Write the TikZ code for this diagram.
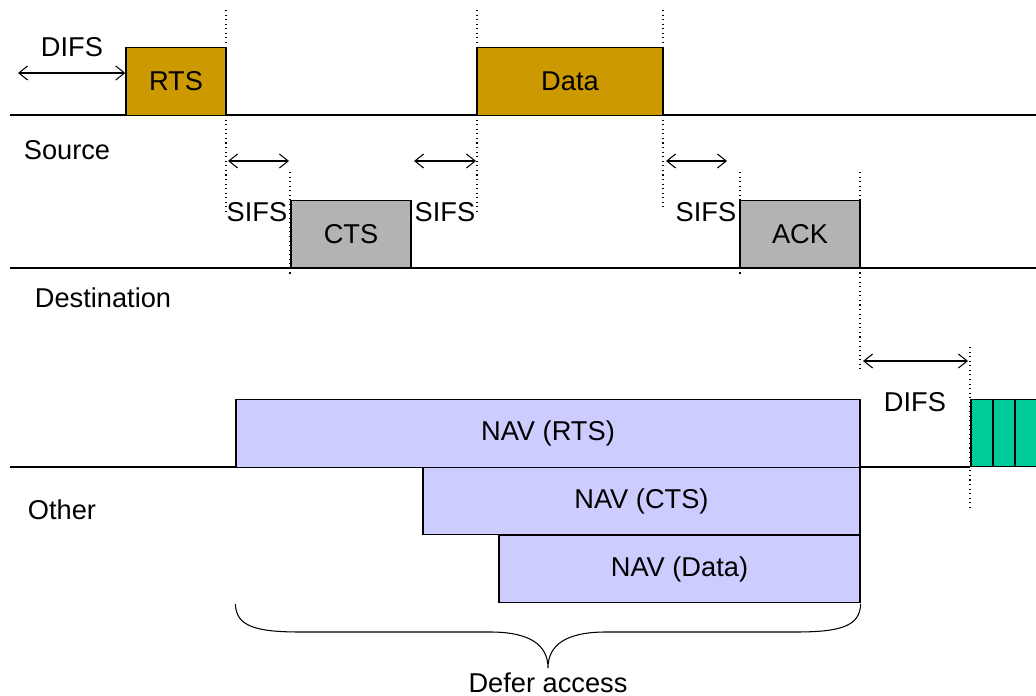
\documentclass[tikz,border=0pt]{standalone}
\usepackage{fontspec}
\setmainfont{Liberation Sans}
\usetikzlibrary{arrows.meta}
\definecolor{framecol}{HTML}{CC9900}
\definecolor{ctrlcol}{HTML}{B3B3B3}
\definecolor{navcol}{HTML}{CCCCFF}
\definecolor{slotcol}{HTML}{00CC99}
\begin{document}
\begin{tikzpicture}[x=0.02cm, y=-0.02cm, line width=0.75pt,
  every node/.style={font=\fontsize{15.5}{18}\selectfont},
  pkt/.style={draw, minimum height=1.35cm, inner sep=0pt},
  gap/.style={<->, line width=0.6pt, >={Straight Barb[length=5pt, width=8pt]}},
  mark line/.style={dotted, line width=0.6pt}]
\useasboundingbox (0,0) rectangle (1036,696);
% time lines
\draw (10,115) -- (1036,115);
\draw (10,268) -- (1036,268);
\draw (10,467) -- (970,467);
\node (src) at (67,150) {Source};
\node (dst) at (103,298) {Destination};
\node (oth) at (62,510) {Other};
% frame boundaries
\foreach \x/\a/\b in {226/10/212, 477/10/212, 663/10/210, 290/172/276, 740/172/276, 860/172/372, 970/347/510} {
  \draw[mark line] (\x,\a) -- (\x,\b);
}
% frames
\node[pkt, fill=framecol, minimum width=2cm] (rts) at (176,81.5) {RTS};
\node[pkt, fill=framecol, minimum width=3.72cm] (data) at (570,81.5) {Data};
\node[pkt, fill=ctrlcol, minimum width=2.4cm] (cts) at (351,234) {CTS};
\node[pkt, fill=ctrlcol, minimum width=2.4cm] (ack) at (800,234) {ACK};
\node[pkt, fill=navcol, minimum width=12.48cm] (navrts) at (548,433.5) {NAV (RTS)};
\node[pkt, fill=navcol, minimum width=8.74cm] (navcts) at (641.5,501) {NAV (CTS)};
\node[pkt, fill=navcol, minimum width=7.22cm] (navdata) at (679.5,569) {NAV (Data)};
\foreach \i/\x in {1/982, 2/1004, 3/1026} {
  \node[pkt, fill=slotcol, minimum width=0.44cm] (slot\i) at (\x,433) {};
}
% interframe spaces
\coordinate (d1a) at (18,73);
\coordinate (s1a) at (228,161);
\coordinate (s2a) at (414,161);
\coordinate (s3a) at (666,161);
\coordinate (s1b) at (289,161);
\coordinate (s2b) at (476,161);
\coordinate (s3b) at (727,161);
\coordinate (d2a) at (863,361);
\coordinate (d2b) at (968,361);
\draw[gap] (d1a) -- (rts.west |- d1a);
\draw[gap] (s1a) -- (s1b);
\draw[gap] (s2a) -- (s2b);
\draw[gap] (s3a) -- (s3b);
\draw[gap] (d2a) -- (d2b);
\node (difs1) at (72,47) {DIFS};
\node (sifs1) at (257,212) {SIFS};
\node (sifs2) at (445,212) {SIFS};
\node (sifs3) at (706,212) {SIFS};
\node (difs2) at (915,402) {DIFS};
% defer brace
\coordinate (tip) at (548,668);
\draw[line width=0.6pt] (navrts.west |- 0,604) .. controls (236,626) and (255,632) .. (300,632)
  -- (490,632) .. controls (530,632) and (548,645) .. (tip)
  .. controls (548,645) and (566,632) .. (606,632)
  -- (796,632) .. controls (841,632) and (860,626) .. (navdata.east |- 0,604);
\node[anchor=base, inner sep=0pt] (defer) at (548,692) {Defer access};
\end{tikzpicture}
\end{document}
